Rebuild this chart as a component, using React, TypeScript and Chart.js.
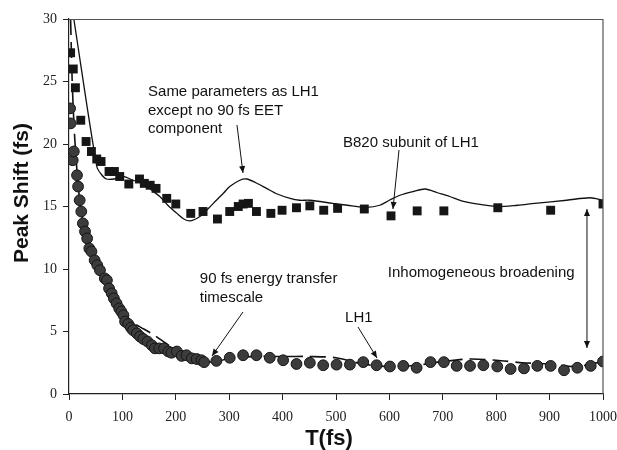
import React, { useEffect, useRef } from "react";
import { Chart, registerables } from "chart.js";

Chart.register(...registerables);

// B820 subunit data (squares)
const squaresX = [3, 8, 12, 22, 32, 42, 52, 60, 75, 85, 95, 112, 132, 141, 152, 163, 183, 200, 228, 251, 278, 301, 317, 326, 336, 351, 378, 399, 426, 451, 477, 503, 553, 603, 652, 702, 803, 902, 1000];
const squaresY = [27.3, 26.0, 24.5, 21.9, 20.2, 19.4, 18.8, 18.6, 17.8, 17.8, 17.4, 16.8, 17.2, 16.85, 16.7, 16.45, 15.65, 15.2, 14.45, 14.6, 14.0, 14.6, 15.0, 15.2, 15.25, 14.6, 14.45, 14.7, 14.9, 15.05, 14.7, 14.85, 14.8, 14.25, 14.65, 14.65, 14.9, 14.7, 15.2];

// LH1 data (circles)
const circlesX = [2, 3, 7, 9, 15, 17, 20, 23, 26, 30, 34, 38, 42, 48, 53, 58, 67, 71, 75, 80, 84, 89, 94, 98, 102, 105, 111, 116, 120, 127, 133, 139, 147, 155, 161, 169, 178, 186, 192, 202, 211, 220, 230, 239, 248, 253, 276, 301, 326, 351, 376, 401, 426, 451, 476, 501, 526, 551, 576, 601, 626, 651, 677, 702, 726, 751, 776, 802, 827, 852, 877, 902, 927, 952, 977, 1000];
const circlesY = [22.85, 21.65, 18.7, 19.4, 17.5, 16.6, 15.5, 14.6, 13.65, 13.0, 12.45, 11.65, 11.4, 10.7, 10.3, 9.9, 9.25, 9.1, 8.45, 8.05, 7.65, 7.25, 6.85, 6.6, 6.3, 5.8, 5.6, 5.3, 5.1, 4.85, 4.6, 4.4, 4.2, 3.9, 3.65, 3.65, 3.65, 3.4, 3.3, 3.4, 3.05, 3.1, 2.85, 2.8, 2.7, 2.55, 2.65, 2.9, 3.1, 3.1, 2.9, 2.7, 2.4, 2.5, 2.3, 2.35, 2.35, 2.55, 2.3, 2.2, 2.25, 2.1, 2.55, 2.55, 2.25, 2.25, 2.3, 2.2, 2.0, 2.05, 2.25, 2.25, 1.9, 2.1, 2.25, 2.6];

// Fit without 90 fs EET component (solid)
const solidX = [9, 52, 60, 70, 85, 102, 120, 139, 155, 170, 185, 202, 215, 227, 245, 260, 276, 290, 301, 320, 333, 350, 370, 390, 414, 432, 451, 494, 530, 557, 582, 600, 620, 645, 667, 690, 713, 735, 757, 801, 840, 872, 932, 976, 1000];
const solidY = [30, 18.2, 17.6, 17.2, 17.2, 17.4, 17.1, 16.85, 16.3, 15.8, 15.1, 14.45, 14.0, 13.85, 14.2, 14.8, 15.5, 16.1, 16.6, 17.1, 17.2, 16.9, 16.45, 16.0, 15.65, 15.5, 15.5, 15.25, 15.05, 14.93, 15.1, 15.5, 15.9, 16.2, 16.4, 16.1, 15.8, 15.45, 15.25, 15.0, 15.1, 15.25, 15.5, 15.7, 15.5];

// LH1 fit (dashed)
const dashedX = [3, 6, 10, 15, 20, 25, 30, 40, 50, 60, 70, 80, 90, 100, 120, 140, 160, 180, 200, 230, 250, 280, 300, 350, 400, 450, 500, 550, 600, 650, 700, 750, 800, 850, 900, 950, 1000];
const dashedY = [30, 25, 21, 17.8, 15.5, 14.0, 13.0, 11.8, 10.6, 9.7, 8.4, 7.6, 7.0, 6.4, 5.7, 5.2, 4.7, 4.1, 3.5, 2.9, 2.6, 2.6, 2.9, 3.0, 3.0, 3.0, 2.9, 2.4, 2.2, 2.3, 2.6, 2.8, 2.7, 2.5, 2.4, 2.2, 2.6];

const xTicks = [0, 100, 200, 300, 400, 500, 600, 700, 800, 900, 1000];
const yTicks = [0, 5, 10, 15, 20, 25, 30];

const xTitle = "T(fs)";
const yTitle = "Peak Shift (fs)";

// annotation texts (anchored in data coordinates)
const noteTexts = [
  ["Same parameters as LH1", "except no 90 fs EET", "component"],
  ["B820 subunit of LH1"],
  ["90 fs energy transfer", "timescale"],
  ["LH1"],
  ["Inhomogeneous broadening"],
];
const noteAnchors = [
  [148, 24.16],
  [513, 20.08],
  [245, 9.2],
  [517, 6.08],
  [597, 9.68],
];
// arrows: [x1, y1, x2, y2, double]
const arrows: [number, number, number, number, boolean][] = [
  [314.6, 21.52, 325.8, 17.68, false],
  [618, 19.52, 606.7, 14.8, false],
  [325.8, 6.56, 267.8, 3.04, false],
  [541.2, 5.36, 576.8, 2.88, false],
  [970, 14.8, 970, 3.68, true],
];

const zip = (xs: number[], ys: number[]) => xs.map((x, i) => ({ x, y: ys[i] }));

function drawHead(ctx: CanvasRenderingContext2D, x1: number, y1: number, x2: number, y2: number) {
  const a = Math.atan2(y2 - y1, x2 - x1);
  const len = 7;
  const w = 3;
  ctx.beginPath();
  ctx.moveTo(x2, y2);
  ctx.lineTo(x2 - len * Math.cos(a) + w * Math.sin(a), y2 - len * Math.sin(a) - w * Math.cos(a));
  ctx.lineTo(x2 - len * Math.cos(a) - w * Math.sin(a), y2 - len * Math.sin(a) + w * Math.cos(a));
  ctx.closePath();
  ctx.fill();
}

const overlay = {
  id: "overlay",
  afterDraw(chart: any) {
    const ctx = chart.ctx as CanvasRenderingContext2D;
    const { left, right, top, bottom } = chart.chartArea;
    const xs = chart.scales.x;
    const ys = chart.scales.y;
    ctx.save();
    // frame top and right
    ctx.strokeStyle = "#555";
    ctx.lineWidth = 1.2;
    ctx.beginPath();
    ctx.moveTo(left, top + 0.5);
    ctx.lineTo(right, top + 0.5);
    ctx.lineTo(right, bottom);
    ctx.stroke();

    // annotations
    ctx.fillStyle = "#111";
    ctx.font = "15px 'Liberation Sans', Arial, sans-serif";
    ctx.textBaseline = "middle";
    ctx.textAlign = "left";
    noteTexts.forEach((lines, i) => {
      const px = xs.getPixelForValue(noteAnchors[i][0]);
      const py = ys.getPixelForValue(noteAnchors[i][1]);
      lines.forEach((t, j) => ctx.fillText(t, px, py + j * 18.5));
    });
    ctx.strokeStyle = "#111";
    ctx.lineWidth = 1;
    arrows.forEach(([a, b, c, d, dbl]) => {
      const x1 = xs.getPixelForValue(a);
      const y1 = ys.getPixelForValue(b);
      const x2 = xs.getPixelForValue(c);
      const y2 = ys.getPixelForValue(d);
      ctx.beginPath();
      ctx.moveTo(x1, y1);
      ctx.lineTo(x2, y2);
      ctx.stroke();
      drawHead(ctx, x1, y1, x2, y2);
      if (dbl) drawHead(ctx, x2, y2, x1, y1);
    });

    // axis titles
    ctx.font = "bold 22px 'Liberation Sans', Arial, sans-serif";
    ctx.textAlign = "center";
    ctx.textBaseline = "middle";
    ctx.fillText(xTitle, 329, 439);
    ctx.font = "bold 21px 'Liberation Sans', Arial, sans-serif";
    ctx.translate(22, 193);
    ctx.rotate(-Math.PI / 2);
    ctx.fillText(yTitle, 0, 0);
    ctx.restore();
  },
};

export default function App() {
  const ref = useRef<HTMLCanvasElement>(null);
  useEffect(() => {
    if (!ref.current) return;
    const serif = "'Liberation Serif', 'Times New Roman', serif";
    const chart = new Chart(ref.current, {
      type: "scatter",
      data: {
        datasets: [
          {
            label: "B820",
            data: zip(squaresX, squaresY),
            pointStyle: "rect",
            pointRadius: 6.3,
            backgroundColor: "#161616",
            borderColor: "#111",
            borderWidth: 0,
            showLine: false,
          },
          {
            label: "LH1",
            data: zip(circlesX, circlesY),
            pointStyle: "circle",
            pointRadius: 5.4,
            backgroundColor: "#3c3c3c",
            borderColor: "#151515",
            borderWidth: 1,
            showLine: false,
          },
          {
            label: "fit no EET",
            data: zip(solidX, solidY),
            showLine: true,
            pointRadius: 0,
            borderColor: "#111",
            borderWidth: 1.3,
            tension: 0.3,
          },
          {
            label: "LH1 fit",
            data: zip(dashedX, dashedY),
            showLine: true,
            pointRadius: 0,
            borderColor: "#111",
            borderWidth: 1.6,
            borderDash: [16, 7],
            tension: 0.3,
          },
        ] as any,
      },
      options: {
        animation: false,
        responsive: false,
        maintainAspectRatio: false,
        layout: { padding: { top: 19, right: 14, left: 0, bottom: 0 } },
        plugins: { legend: { display: false }, tooltip: { enabled: false } },
        scales: {
          x: {
            type: "linear",
            min: 0,
            max: 1000,
            afterFit: (s: any) => { s.height = 56; s.paddingLeft = 0; s.paddingRight = 0; },
            afterBuildTicks: (s: any) => { s.ticks = xTicks.map((v) => ({ value: v })); },
            grid: { display: true, drawOnChartArea: false, drawTicks: true, tickLength: 6, color: "#222", lineWidth: 1 },
            border: { display: true, color: "#222", width: 1.2 },
            ticks: { color: "#222", font: { family: serif, size: 14 }, padding: 9, maxRotation: 0, autoSkip: false, callback: (v: any) => String(v) },
          },
          y: {
            type: "linear",
            min: 0,
            max: 30,
            afterFit: (s: any) => { s.width = 69; s.paddingTop = 0; s.paddingBottom = 0; },
            afterBuildTicks: (s: any) => { s.ticks = yTicks.map((v) => ({ value: v })); },
            grid: { display: true, drawOnChartArea: false, drawTicks: true, tickLength: 6, color: "#222", lineWidth: 1 },
            border: { display: true, color: "#222", width: 1.2 },
            ticks: { color: "#222", font: { family: serif, size: 14 }, padding: 6, callback: (v: any) => String(v) },
          },
        },
      } as any,
      plugins: [overlay],
    });
    return () => chart.destroy();
  }, []);
  return (
    <div style={{ position: "fixed", left: 0, top: 0, width: 617, height: 450, background: "#fff" }}>
      <canvas ref={ref} width={617} height={450} style={{ width: 617, height: 450 }} />
    </div>
  );
}
